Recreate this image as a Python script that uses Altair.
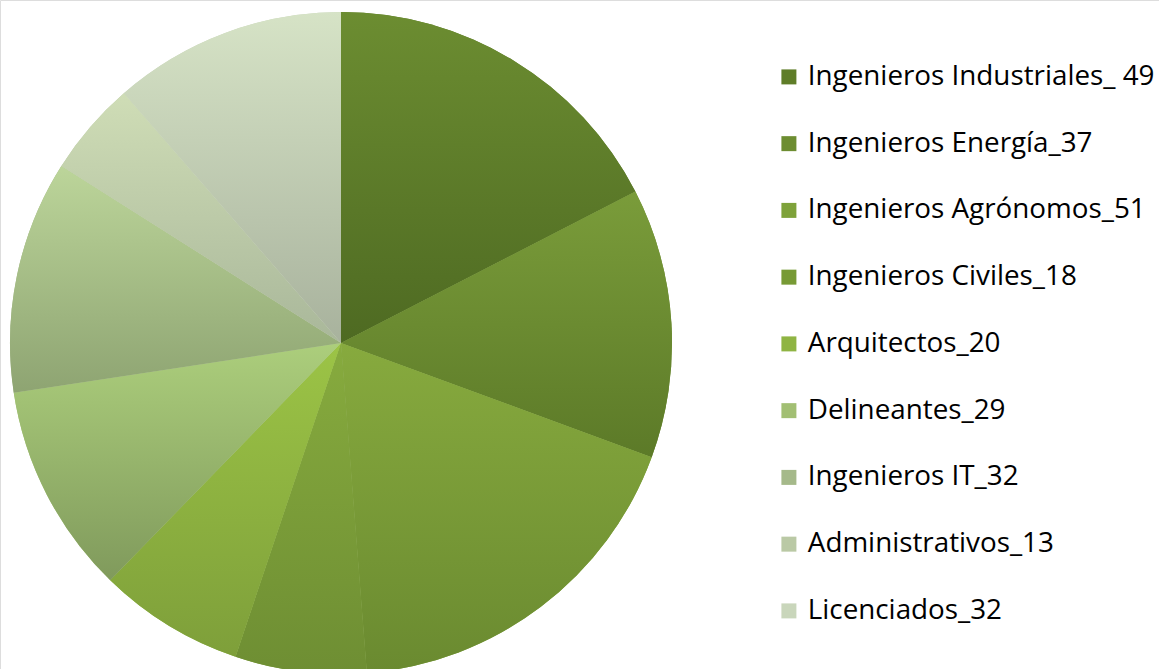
import altair as alt
import pandas as pd

labels = [
    "Ingenieros Industriales_ 49",
    "Ingenieros Energía_37",
    "Ingenieros Agrónomos_51",
    "Ingenieros Civiles_18",
    "Arquitectos_20",
    "Delineantes_29",
    "Ingenieros IT_32",
    "Administrativos_13",
    "Licenciados_32",
]
values = [49, 37, 51, 18, 20, 29, 32, 13, 32]
colors = ["#5f7d28", "#6d8d31", "#7ea23a", "#779a35", "#8fb443",
          "#a2bf73", "#a5b98a", "#bac9a5", "#c9d6bb"]
top_colors = ["#6c8d31", "#7a9c3a", "#87aa3e", "#87ab3e", "#9cc446",
              "#acce7c", "#bcd59a", "#cfddb6", "#d6e3c6"]
bottom_colors = ["#4e6a22", "#5c7a28", "#6a8a30", "#6e8e33", "#7e9f3a",
                 "#809a5c", "#8ea472", "#a9b79a", "#a8b29d"]

df = pd.DataFrame({"label": labels, "value": values, "idx": list(range(len(labels)))})

theta_scale = alt.Scale(domain=[0, 1], range=[0, 6.283185307179586])

base = alt.Chart(df).transform_joinaggregate(
    total="sum(value)"
).transform_window(
    cum="sum(value)", sort=[alt.SortField("idx")], frame=[None, 0]
).transform_calculate(
    t0="(datum.cum - datum.value) / datum.total",
    t1="datum.cum / datum.total",
)

legend_layer = base.mark_arc(radius=331).encode(
    x=alt.value(341),
    y=alt.value(343),
    theta=alt.Theta("t0:Q", scale=theta_scale),
    theta2="t1:Q",
    color=alt.Color(
        "label:N",
        scale=alt.Scale(domain=labels, range=colors),
        sort=labels,
        legend=alt.Legend(
            title=None,
            orient="none",
            legendX=775,
            legendY=63,
            symbolType="square",
            symbolSize=225,
            symbolStrokeWidth=0,
            labelFontSize=27.8,
            labelFont="Open Sans",
            labelColor="#000000",
            labelLimit=600,
            labelOffset=5,
            rowPadding=37.75,
        ),
    ),
)

layers = [legend_layer]
for i in range(len(labels)):
    grad = alt.Gradient(
        gradient="linear",
        stops=[alt.GradientStop(color=top_colors[i], offset=0),
               alt.GradientStop(color=bottom_colors[i], offset=1)],
        x1=0, x2=0, y1=0, y2=1,
    )
    layers.append(
        base.transform_filter(alt.datum.idx == i).mark_arc(radius=331, fill=grad).encode(
            x=alt.value(341),
            y=alt.value(343),
            theta=alt.Theta("t0:Q", scale=theta_scale),
            theta2="t1:Q",
        )
    )

chart = alt.layer(*layers).properties(
    width=1159,
    height=669,
    padding=0,
    autosize=alt.AutoSizeParams(type="none"),
).configure_view(stroke=None).configure(background="white")

chart.save("out.html", embed_options={"renderer": "svg", "actions": False})
